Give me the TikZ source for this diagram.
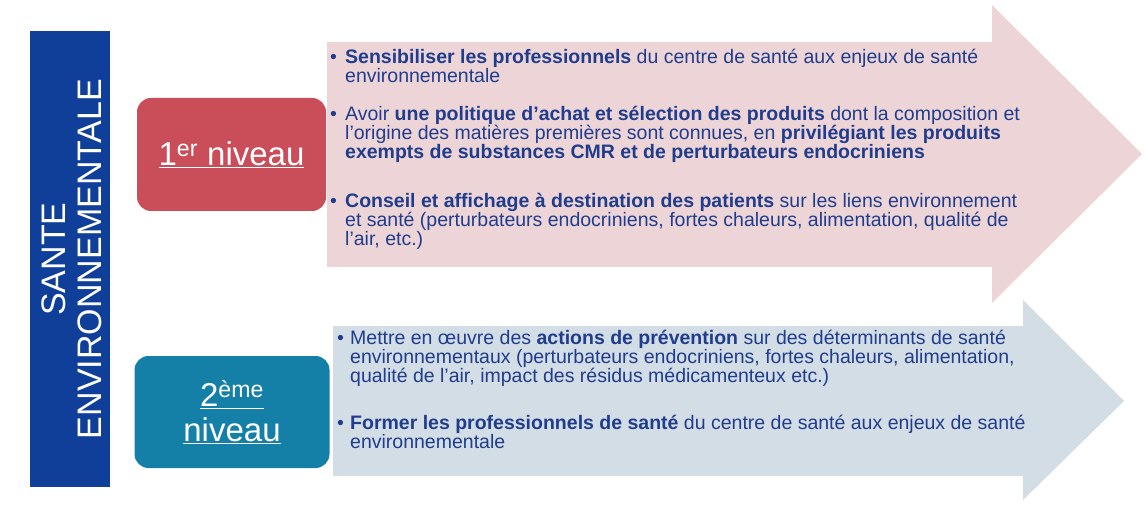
\documentclass[tikz,border=0pt]{standalone}
\usepackage{fontspec}
\setmainfont{Liberation Sans}
\setlength{\lineskiplimit}{-20pt}
\definecolor{barblue}{HTML}{103F99}
\definecolor{lvlred}{HTML}{C94E5A}
\definecolor{lvlteal}{HTML}{1480A8}
\definecolor{pinkarrow}{HTML}{EDD5D7}
\definecolor{bluearrow}{HTML}{D3DDE6}
\definecolor{txtblue}{HTML}{203C8C}
\begin{document}
\begin{tikzpicture}[x=1pt,y=-1pt,
    item/.style={anchor=base west,inner sep=0pt,text=txtblue,align=left,
      font=\fontsize{19.5}{19}\selectfont},
    level/.style={rounded corners=14pt,text=white,align=center,
      font=\fontsize{33}{35}\selectfont}]
    \useasboundingbox (0,0) rectangle (1147,510);

    % Vertical title bar
    \fill[barblue] (30,31) rectangle (110,487);
    \node[rotate=90,text=white,align=center,font=\fontsize{34}{36}\selectfont]
      (title) at (72,259) {SANTE\\ENVIRONNEMENTALE};

    % Pink arrow (1er niveau)
    \fill[pinkarrow] (327,42) -- (992,42) -- (992,5) -- (1142,154)
      -- (992,303) -- (992,267) -- (327,267) -- cycle;

    % Blue arrow (2eme niveau)
    \fill[bluearrow] (333,326) -- (1023,326) -- (1023,300) -- (1124,401)
      -- (1023,500) -- (1023,476) -- (333,476) -- cycle;

    % Level boxes
    \node[level,fill=lvlred,minimum width=189pt,minimum height=113pt]
      (lvl1) at (231.5,154.5) {\underline{1\textsuperscript{er} niveau}};
    \node[level,fill=lvlteal,minimum width=195pt,minimum height=112pt]
      (lvl2) at (232,412) {\underline{2\textsuperscript{ème}}\\\underline{niveau}};

    % Items of the first level (placed at the baseline of their last line)
    \node[item] (b1) at (330,64) {•};
    \node[item] (t1) at (345,83) {\textbf{Sensibiliser les professionnels} du centre de santé aux enjeux de santé\\
      environnementale};
    \node[item] (b2) at (330,121) {•};
    \node[item] (t2) at (345,159) {Avoir \textbf{une politique d’achat et sélection des produits} dont la composition et\\
      l’origine des matières premières sont connues, en \textbf{privilégiant les produits}\\
      \textbf{exempts de substances CMR et de perturbateurs endocriniens}};
    \node[item] (b3) at (330,208) {•};
    \node[item] (t3) at (345,246) {\textbf{Conseil et affichage à destination des patients} sur les liens environnement\\
      et santé (perturbateurs endocriniens, fortes chaleurs, alimentation, qualité de\\
      l’air, etc.)};

    % Items of the second level
    \node[item] (b4) at (337,344) {•};
    \node[item] (t4) at (350,382) {Mettre en œuvre des \textbf{actions de prévention} sur des déterminants de santé\\
      environnementaux (perturbateurs endocriniens, fortes chaleurs, alimentation,\\
      qualité de l’air, impact des résidus médicamenteux etc.)};
    \node[item] (b5) at (337,429) {•};
    \node[item] (t5) at (350,448) {\textbf{Former les professionnels de santé} du centre de santé aux enjeux de santé\\
      environnementale};
\end{tikzpicture}
\end{document}
